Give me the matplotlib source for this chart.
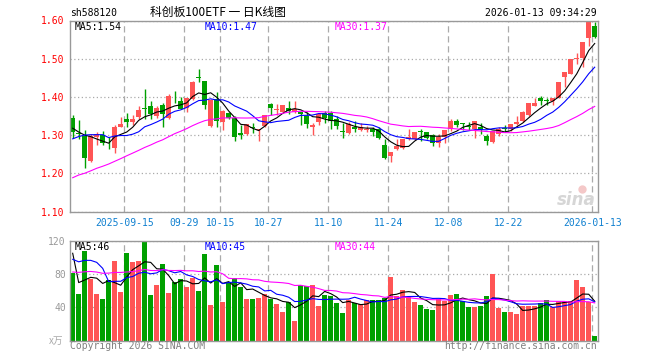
import matplotlib
matplotlib.use('Agg')
import matplotlib.pyplot as plt
import numpy as np
import pandas as pd

# 日K数据 (2025-09-02 ~ 2026-01-13)
opens = [1.346, 1.305, 1.298, 1.232, 1.296, 1.300, 1.278, 1.266, 1.322, 1.342,
         1.335, 1.348, 1.371, 1.376, 1.350, 1.380, 1.344, 1.401, 1.390, 1.372,
         1.394, 1.452, 1.441, 1.324, 1.394, 1.335, 1.357, 1.346, 1.305, 1.302,
         1.321, 1.314, 1.324, 1.381, 1.366, 1.361, 1.370, 1.361, 1.361, 1.350,
         1.320, 1.333, 1.357, 1.357, 1.342, 1.311, 1.305, 1.322, 1.314, 1.314,
         1.315, 1.317, 1.273, 1.246, 1.263, 1.267, 1.289, 1.289, 1.310, 1.309,
         1.300, 1.279, 1.295, 1.317, 1.337, 1.331, 1.323, 1.317, 1.322, 1.298,
         1.282, 1.302, 1.319, 1.315, 1.328, 1.337, 1.353, 1.376, 1.396, 1.392,
         1.390, 1.398, 1.451, 1.461, 1.499, 1.503, 1.555, 1.586]
closes = [1.307, 1.303, 1.239, 1.298, 1.302, 1.279, 1.276, 1.322, 1.330, 1.333,
          1.342, 1.366, 1.369, 1.355, 1.370, 1.355, 1.403, 1.399, 1.369, 1.396,
          1.438, 1.450, 1.379, 1.391, 1.337, 1.362, 1.346, 1.295, 1.301, 1.328,
          1.319, 1.316, 1.352, 1.370, 1.368, 1.378, 1.362, 1.368, 1.355, 1.329,
          1.327, 1.355, 1.344, 1.337, 1.324, 1.309, 1.328, 1.317, 1.320, 1.317,
          1.308, 1.293, 1.239, 1.256, 1.272, 1.289, 1.296, 1.309, 1.308, 1.293,
          1.280, 1.295, 1.314, 1.337, 1.326, 1.329, 1.321, 1.337, 1.313, 1.285,
          1.311, 1.315, 1.317, 1.330, 1.335, 1.361, 1.383, 1.385, 1.390, 1.390,
          1.396, 1.439, 1.464, 1.499, 1.503, 1.545, 1.595, 1.557]
highs = [1.352, 1.339, 1.313, 1.302, 1.307, 1.310, 1.295, 1.326, 1.347, 1.357,
         1.352, 1.376, 1.420, 1.390, 1.376, 1.385, 1.407, 1.416, 1.401, 1.396,
         1.442, 1.472, 1.441, 1.394, 1.413, 1.366, 1.361, 1.349, 1.326, 1.330,
         1.331, 1.317, 1.352, 1.383, 1.381, 1.378, 1.389, 1.389, 1.361, 1.361,
         1.331, 1.359, 1.363, 1.363, 1.349, 1.331, 1.333, 1.337, 1.331, 1.324,
         1.322, 1.322, 1.291, 1.256, 1.289, 1.291, 1.315, 1.309, 1.315, 1.309,
         1.302, 1.302, 1.314, 1.342, 1.342, 1.331, 1.333, 1.337, 1.331, 1.304,
         1.311, 1.320, 1.327, 1.330, 1.350, 1.363, 1.385, 1.398, 1.403, 1.398,
         1.396, 1.439, 1.464, 1.499, 1.516, 1.545, 1.595, 1.595]
lows = [1.293, 1.290, 1.214, 1.230, 1.273, 1.273, 1.263, 1.252, 1.322, 1.322,
        1.326, 1.342, 1.342, 1.342, 1.346, 1.320, 1.342, 1.385, 1.368, 1.361,
        1.392, 1.438, 1.368, 1.322, 1.322, 1.314, 1.342, 1.285, 1.289, 1.300,
        1.305, 1.285, 1.322, 1.352, 1.352, 1.357, 1.355, 1.357, 1.326, 1.319,
        1.300, 1.327, 1.331, 1.315, 1.317, 1.293, 1.302, 1.307, 1.311, 1.308,
        1.298, 1.289, 1.237, 1.230, 1.261, 1.263, 1.287, 1.287, 1.285, 1.289,
        1.272, 1.270, 1.280, 1.311, 1.322, 1.314, 1.314, 1.293, 1.302, 1.273,
        1.280, 1.298, 1.307, 1.311, 1.327, 1.335, 1.350, 1.376, 1.379, 1.379,
        1.379, 1.396, 1.426, 1.459, 1.486, 1.477, 1.534, 1.554]
# 成交量 (万手)
vols = [81.6, 56, 107.6, 74, 56, 50, 72.8, 95.6, 58.4, 105.2,
        94.4, 95.6, 120, 54.8, 66.8, 92, 57.2, 70.4, 74, 64.4,
        75.2, 59.6, 104, 42.8, 90.8, 46.4, 70.4, 75.2, 64.4, 50,
        50, 51.2, 56, 50, 44, 34.4, 46.4, 23.6, 66.8, 65.6,
        66.8, 41.6, 54.8, 53.6, 45.2, 33.2, 48.8, 45.2, 44, 48.8,
        48.8, 48.8, 51.2, 76.4, 53.6, 60.8, 52.4, 46.4, 42.8, 38,
        36.8, 50, 47.6, 54.8, 56, 47.6, 40.4, 40.4, 41.6, 53.6,
        80, 39.2, 34.4, 34.4, 32, 41.6, 41.6, 41.6, 45.2, 48.8,
        40.4, 47.6, 47.6, 47.6, 72.8, 64.4, 46.4, 5.6]

# 图表之前29天的数据, 用来算均线
hist_close = [1.09, 1.10, 1.11, 1.10, 1.12, 1.10, 1.11, 1.12, 1.11,
              1.13, 1.15, 1.14, 1.16, 1.15, 1.17, 1.16, 1.16,
              1.18, 1.19, 1.20,
              1.243, 1.200, 1.288, 1.302, 1.279,
              1.353, 1.279, 1.318, 1.333]
hist_vol = [70, 85, 62, 78, 95, 66, 72, 58, 88, 80,
            64, 76, 92, 70, 60, 84, 74, 68, 80, 74,
            86, 90, 74, 80, 122,
            232, 92, 58, 61]

tick_idx = [9, 19, 25, 33, 43, 53, 63, 73, 87]
tick_labels = ['2025-09-15', '09-29', '10-15', '10-27', '11-10',
               '11-24', '12-08', '12-22', '2026-01-13']

RED = '#ff5555'
GREEN = '#00a000'
MONO = 'DejaVu Sans Mono'
CJK = ['Noto Sans CJK SC', 'DejaVu Sans']


def ma(hist, data, k):
    s = pd.Series(list(hist) + list(data)).rolling(k).mean().values
    return s[len(hist):]


n = len(closes)
x = np.arange(n)
o = np.array(opens)
c = np.array(closes)
cols = [RED if cc >= oo else GREEN for oo, cc in zip(o, c)]

fig = plt.figure(figsize=(6.6, 3.6), dpi=100)
ax1 = fig.add_axes([70 / 660, 1 - 211.5 / 360, 528 / 660, 191 / 360])
ax2 = fig.add_axes([70 / 660, 1 - 340.7 / 360, 528 / 660, 100 / 360])

# K线
ax1.vlines(x, lows, highs, colors=cols, linewidth=1)
ax1.bar(x, np.maximum(np.abs(c - o), 0.0018), bottom=np.minimum(o, c),
        width=0.8, color=cols, linewidth=0)
ax1.plot(x, ma(hist_close, closes, 5), color='black', lw=0.8)
ax1.plot(x, ma(hist_close, closes, 10), color='#0000ff', lw=0.8)
ax1.plot(x, ma(hist_close, closes, 30), color='#ff00ff', lw=0.8)

# 成交量
ax2.bar(x, vols, width=0.8, color=cols, linewidth=0)
ax2.plot(x, ma(hist_vol, vols, 5), color='black', lw=0.8)
ax2.plot(x, ma(hist_vol, vols, 10), color='#0000ff', lw=0.8)
ax2.plot(x, ma(hist_vol, vols, 30), color='#ff00ff', lw=0.8)

tick_pos = [i - 0.4 for i in tick_idx]
for ax in (ax1, ax2):
    ax.set_xlim(-0.45, n - 0.45)
    ax.set_xticks(tick_pos)
    ax.set_axisbelow(True)
    ax.xaxis.grid(True, color='#aaaaaa', linestyle=(0, (5, 3)), lw=0.9)
    ax.yaxis.grid(True, color='#aaaaaa', linestyle=(0, (1, 2)), lw=0.9)
    for sp in ax.spines.values():
        sp.set_color('#999999')
        sp.set_linewidth(1)
    ax.tick_params(length=0)

ax1.set_ylim(1.10, 1.60)
ax1.set_yticks(np.arange(1.10, 1.601, 0.10))
ax1.set_yticklabels(['%.2f' % v for v in np.arange(1.10, 1.601, 0.10)],
                    color='#ff0000', fontsize=7, family=MONO)
ax1.set_xticklabels(tick_labels, color='#1080d0', fontsize=7, family=MONO)
ax1.tick_params(axis='x', pad=5)
ax1.tick_params(axis='y', pad=4)

ax2.set_ylim(0, 120)
ax2.set_yticks([40, 80, 120])
ax2.set_yticklabels(['40', '80', '120'], color='#999999', fontsize=7, family=MONO)
ax2.set_xticklabels([])
ax2.tick_params(axis='y', pad=3)


def ftext(px, py, s, **kw):
    fig.text(px / 660, 1 - py / 360, s, va='center', **kw)


ftext(70, 13, 'sh588120', fontsize=7, family=MONO)
ftext(150, 12.5, '科创板100ETF 一 日K线图', fontsize=8.5, family=CJK)
ftext(597, 12.5, '2026-01-13 09:34:29', fontsize=7, family=MONO, ha='right')

ftext(75, 26.5, 'MA5:1.54', fontsize=7, family=MONO, color='black')
ftext(205, 26.5, 'MA10:1.47', fontsize=7, family=MONO, color='#0000ff')
ftext(335, 26.5, 'MA30:1.37', fontsize=7, family=MONO, color='#ff00ff')

ftext(75, 246.5, 'MA5:46', fontsize=7, family=MONO, color='black')
ftext(205, 246.5, 'MA10:45', fontsize=7, family=MONO, color='#0000ff')
ftext(335, 246.5, 'MA30:44', fontsize=7, family=MONO, color='#ff00ff')

ftext(63, 340.5, 'x万', fontsize=7, family=CJK, color='#aaaaaa', ha='right')
ftext(70, 346, 'Copyright 2026 SINA.COM', fontsize=7, family=MONO, color='#808080')
ftext(597, 346, 'http://finance.sina.com.cn', fontsize=7, family=MONO,
      color='#808080', ha='right')

# sina 水印
ftext(596, 200, 'sina', fontsize=12, family='DejaVu Sans', color='#d6d6d6',
      ha='right', style='italic', weight='bold')
ax1.plot([0.97], [0.12], transform=ax1.transAxes, marker='o', markersize=5,
         color='#f4c8c8', clip_on=False, zorder=0)

fig.savefig('out.png', dpi=100)
